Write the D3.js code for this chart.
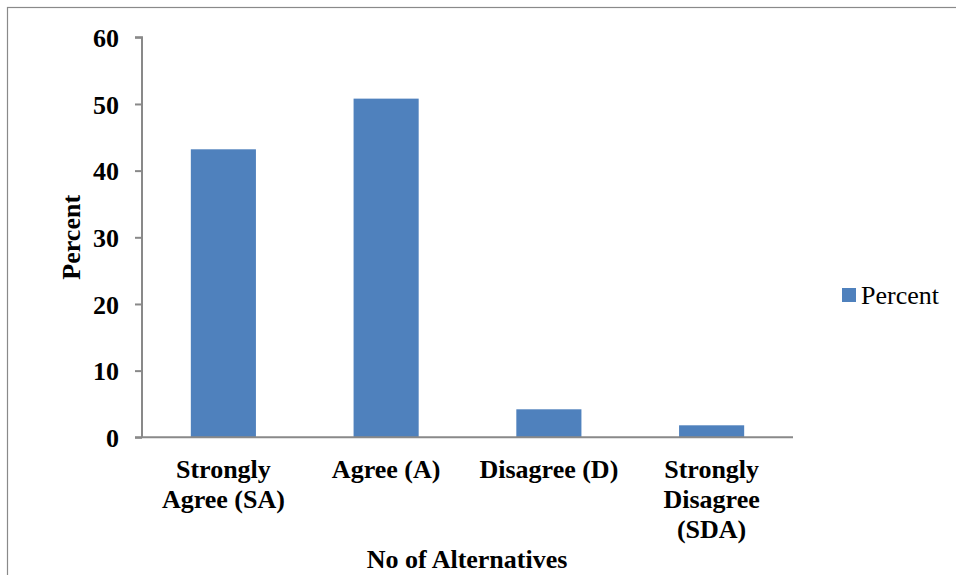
<!DOCTYPE html>
<html>
<head>
<meta charset="utf-8">
<script src="https://cdn.jsdelivr.net/npm/d3@7"></script>
<style>
  html, body { margin: 0; padding: 0; background: #fff; }
  svg { display: block; }
  svg text { font-family: 'Liberation Serif', 'Times New Roman', Times, 'DejaVu Serif', serif; fill: #000; }
</style>
</head>
<body>
<svg id="chart" width="956" height="575"></svg>
<script>
// Survey responses: share of respondents per alternative
const categories = [["Strongly", "Agree (SA)"], ["Agree (A)"], ["Disagree (D)"], ["Strongly", "Disagree", "(SDA)"]];
const percentValues = [43.2, 50.8, 4.2, 1.8];
const yTicks = [0, 10, 20, 30, 40, 50, 60];
const seriesName = "Percent";
const xTitle = "No of Alternatives";
const yTitle = "Percent";

const FONT = "'Liberation Serif', 'Times New Roman', Times, 'DejaVu Serif', serif";
const svg = d3.select("#chart");
const W = 956, H = 575;
const plot = { left: 142, right: 793, top: 37.3, bottom: 437.3 };
const barColor = "#4F81BD";
const axisColor = "#898989";

// outer frame (runs past the right and bottom edges)
svg.append("rect")
  .attr("x", 7.5).attr("y", 7.5)
  .attr("width", W + 20).attr("height", H + 20)
  .attr("fill", "none").attr("stroke", "#8a8a8a").attr("stroke-width", 1.2);

const x = d3.scaleBand()
  .domain(d3.range(categories.length))
  .range([plot.left, plot.right])
  .paddingInner(0.6).paddingOuter(0.3);

const y = d3.scaleLinear().domain([0, 60]).range([plot.bottom, plot.top]);

// bars
svg.append("g").selectAll("rect")
  .data(percentValues)
  .join("rect")
  .attr("x", (d, i) => x(i))
  .attr("y", d => y(d))
  .attr("width", x.bandwidth())
  .attr("height", d => y(0) - y(d))
  .attr("fill", barColor);

// y axis
const yAxis = d3.axisLeft(y).tickValues(yTicks).tickSize(7).tickPadding(16).tickFormat(d3.format("d"));
const gy = svg.append("g").attr("transform", `translate(${plot.left},0)`).call(yAxis);
gy.attr("font-family", null).attr("font-size", null);
gy.select(".domain").attr("stroke", axisColor).attr("stroke-width", 2).attr("d", `M-7,${plot.top}H0V${plot.bottom}`);
gy.selectAll(".tick line").attr("stroke", axisColor).attr("stroke-width", 2);
gy.selectAll(".tick text")
  .style("font-family", FONT)
  .attr("font-size", 26).attr("font-weight", "bold").attr("fill", "#000")
  .attr("dy", "0.35em");

// x axis
svg.append("line")
  .attr("x1", plot.left - 7).attr("x2", plot.right)
  .attr("y1", plot.bottom).attr("y2", plot.bottom)
  .attr("stroke", axisColor).attr("stroke-width", 2);

// category labels (multi-line)
const catG = svg.append("g");
categories.forEach((lines, i) => {
  const cx = x(i) + x.bandwidth() / 2;
  const t = catG.append("text")
    .attr("x", cx)
    .attr("y", 478)
    .attr("text-anchor", "middle")
    .style("font-family", FONT)
    .attr("font-size", 26).attr("font-weight", "bold");
  lines.forEach((ln, j) => {
    t.append("tspan")
      .attr("x", cx)
      .attr("dy", j === 0 ? 0 : 30)
      .text(ln);
  });
});

// axis titles
svg.append("text")
  .attr("x", (plot.left + plot.right) / 2 - 0.5)
  .attr("y", 568)
  .attr("text-anchor", "middle")
  .style("font-family", FONT)
  .attr("font-size", 26).attr("font-weight", "bold")
  .text(xTitle);

svg.append("text")
  .attr("transform", `translate(80,${(plot.top + plot.bottom) / 2}) rotate(-90)`)
  .attr("text-anchor", "middle")
  .style("font-family", FONT)
  .attr("font-size", 26).attr("font-weight", "bold")
  .text(yTitle);

// legend
const lg = svg.append("g").attr("transform", "translate(842,288)");
lg.append("rect").attr("width", 14).attr("height", 14).attr("fill", barColor);
lg.append("text").attr("x", 19).attr("y", 16)
  .style("font-family", FONT)
  .attr("font-size", 26).text(seriesName);
</script>
</body>
</html>
